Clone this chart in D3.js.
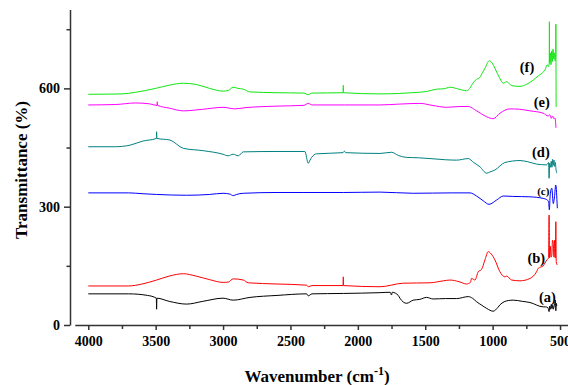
<!DOCTYPE html>
<html>
<head>
<meta charset="utf-8">
<script src="https://cdn.jsdelivr.net/npm/d3@7"></script>
<style>
  html, body { margin: 0; padding: 0; background: #fff; }
  svg { display: block; }
  .tick text { font-family: "Liberation Serif", "Times New Roman", serif; font-weight: bold; font-size: 14px; fill: #000; }
  .title { font-family: "Liberation Serif", "Times New Roman", serif; font-weight: bold; font-size: 17px; fill: #000; }
  .lbl { font-family: "Liberation Serif", "Times New Roman", serif; font-weight: bold; fill: #000; }
</style>
</head>
<body>
<svg id="chart" width="568" height="385"></svg>
<script>
// spectra: [wavenumber, transmittance]
const spec_a = [[4000,79],[3700,79],[3560,75],[3495,68],[3493,40],[3491,68],[3400,60],[3270,53],[3150,60],[3000,68],[2925,63],[2800,70],[2600,75],[2380,79],[2368,74],[2340,79],[2108,80],[1836,82],[1760,83],[1750,76],[1745,83],[1700,75],[1688,68],[1638,55],[1589,63],[1540,65],[1490,70],[1441,66],[1350,67],[1267,67],[1181,72],[1150,68],[1119,59],[1080,50],[1044,42],[996,35],[960,45],[946,51],[884,62],[847,63],[780,60],[723,57],[625,46],[610,46],[590,44],[581,34],[576,48],[570,40],[565,52],[560,42],[555,50],[550,40],[540,55],[534,63],[531,36],[528,55],[524,48]]
const spec_b = [[4000,99],[3700,99],[3600,104],[3493,114],[3400,124],[3295,130],[3200,124],[3100,115],[3000,108],[2960,109],[2925,117],[2850,114],[2813,107],[2600,104],[2380,101],[2368,97],[2340,100],[2110,100],[2108,122],[2106,100],[1836,97],[1663,106],[1465,107],[1366,112],[1317,114],[1250,110],[1193,104],[1165,108],[1156,118],[1131,114],[1107,135],[1082,141],[1057,165],[1033,186],[1010,180],[983,165],[946,135],[909,122],[896,124],[859,114],[797,112],[723,118],[674,135],[661,144],[625,150],[598,165],[585,170],[581,279],[578,170],[572,200],[567,172],[561,177],[556,215],[550,207],[545,172],[540,215],[535,170],[531,262],[528,160],[520,152]]
const spec_c = [[4000,335],[3700,335],[3600,333],[3493,331],[3270,329],[3100,331],[3000,334],[2950,332],[2925,328],[2900,331],[2850,334],[2600,336],[2400,336],[2108,336],[1836,337],[1589,334],[1300,335],[1168,335],[1119,327],[1070,315],[1027,306],[970,317],[921,327],[850,326],[723,325],[625,321],[595,317],[585,312],[579,292],[573,330],[561,347],[550,308],[541,325],[532,355],[520,296]]
const spec_d = [[4000,452],[3800,452],[3690,456],[3600,466],[3495,473],[3493,490],[3491,473],[3394,469],[3295,448],[3147,442],[3000,433],[2962,429],[2925,433],[2887,429],[2850,439],[2600,440],[2393,440],[2368,410],[2355,418],[2343,425],[2306,434],[2110,437],[2100,441],[2090,437],[1836,435],[1749,438],[1700,430],[1638,425],[1550,424],[1465,422],[1350,419],[1267,418],[1181,422],[1140,412],[1094,401],[1044,385],[1020,388],[983,393],[909,412],[797,417],[740,414],[674,408],[600,406],[585,412],[581,372],[577,410],[570,400],[565,415],[560,400],[555,420],[550,405],[545,418],[540,402],[535,412],[530,395],[524,385]]
const spec_e = [[4000,558],[3800,559],[3650,563],[3550,561],[3490,557],[3488,566],[3486,557],[3400,550],[3295,543],[3150,547],[3000,552],[2912,548],[2838,551],[2600,555],[2400,557],[2368,562],[2340,558],[2100,558],[1836,558],[1700,560],[1540,562],[1450,557],[1341,552],[1250,554],[1181,554],[1119,543],[1044,528],[996,523],[946,537],[872,548],[800,547],[723,543],[625,537],[587,530],[575,533],[565,524],[555,530],[545,523],[537,525],[532,510],[530,500]]
const spec_f = [[4000,585],[3750,586],[3650,590],[3500,600],[3400,608],[3295,613],[3200,610],[3100,600],[3000,593],[2960,595],[2925,603],[2890,600],[2850,598],[2800,591],[2600,589],[2400,588],[2368,584],[2340,588],[2110,589],[2108,608],[2106,589],[1836,586],[1700,587],[1600,589],[1490,592],[1415,598],[1360,599],[1317,603],[1250,598],[1193,594],[1170,600],[1156,608],[1135,618],[1119,623],[1094,628],[1075,640],[1057,651],[1025,670],[1005,665],[983,651],[965,638],[946,625],[921,613],[896,617],[859,607],[797,605],[750,610],[699,621],[660,632],[636,638],[610,648],[595,660],[585,655],[580,665],[579,769],[577,665],[572,690],[567,660],[562,695],[557,668],[552,700],[547,675],[542,690],[537,670],[532,685],[531,763],[529,553]]

const series_names = ['(a)', '(b)', '(c)', '(d)', '(e)', '(f)']
const series_colors = ['#000000', '#ff0000', '#0000ff', '#008080', '#ff00ff', '#11e611']
const series_data = [spec_a, spec_b, spec_c, spec_d, spec_e, spec_f]

const x_major = [4000, 3500, 3000, 2500, 2000, 1500, 1000, 500]
const x_minor = [3750, 3250, 2750, 2250, 1750, 1250, 750]
const y_major = [0, 300, 600]
const y_minor = [150, 450, 750]

const svg = d3.select('#chart')

const x = d3.scaleLinear().domain([4100, 400]).range([74.8, 573.5])
const y = d3.scaleLinear().domain([0, 800]).range([325, 9.5])

// y axis
const gy = svg.append('g').attr('transform', 'translate(70,0)')
gy.call(d3.axisLeft(y).tickValues(y_major).tickFormat(d3.format('d')).tickSize(6).tickSizeOuter(0).tickPadding(4))
gy.append('g').call(d3.axisLeft(y).tickValues(y_minor).tickSize(3.5).tickSizeOuter(0).tickFormat(''))
  .select('.domain').remove()
gy.selectAll('path, line').attr('stroke', '#333').attr('stroke-width', 1.5)

// x axis
const gx = svg.append('g').attr('transform', 'translate(0,325)')
gx.call(d3.axisBottom(x).tickValues(x_major).tickFormat(d3.format('d')).tickSize(5).tickSizeOuter(0).tickPadding(6))
gx.append('g').call(d3.axisBottom(x).tickValues(x_minor).tickSize(4).tickSizeOuter(0).tickFormat(''))
  .select('.domain').remove()
gx.selectAll('path, line').attr('stroke', '#333').attr('stroke-width', 1.5)

// spectra
const line = d3.line().x(d => x(d[0])).y(d => y(d[1])).curve(d3.curveMonotoneX)
svg.append('g').selectAll('path.spec')
  .data(series_data)
  .join('path')
  .attr('class', 'spec')
  .attr('fill', 'none')
  .attr('stroke', (d, i) => series_colors[i])
  .attr('stroke-width', 1)
  .attr('d', line)

// curve labels
const label_at = [[594, 72], [676, 169], [624, 340], [642, 439], [636, 566], [745, 654]]
svg.append('g').selectAll('text')
  .data(series_names)
  .join('text')
  .attr('class', 'lbl')
  .attr('x', (d, i) => x(label_at[i][0]))
  .attr('y', (d, i) => y(label_at[i][1]))
  .attr('dy', '0.35em')
  .attr('text-anchor', 'middle')
  .style('font-size', d => d == '(c)' ? '11px' : '14.5px')
  .text(d => d)

// axis titles
svg.append('text')
  .attr('class', 'title')
  .attr('transform', 'translate(27,170) rotate(-90)')
  .attr('text-anchor', 'middle')
  .text('Transmittance (%)')

const xt = svg.append('text')
  .attr('class', 'title')
  .attr('x', 317)
  .attr('y', 382)
  .attr('text-anchor', 'middle')
xt.append('tspan').text('Wavenumber (cm')
xt.append('tspan').attr('dy', -7).style('font-size', '12px').text('-1')
xt.append('tspan').attr('dy', 7).text(')')
</script>
</body>
</html>
